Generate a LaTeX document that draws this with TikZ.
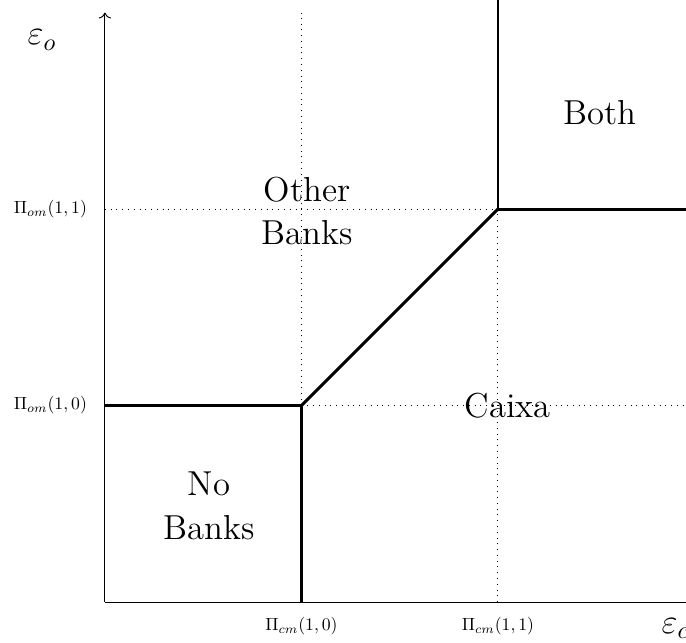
\documentclass[tikz,border=0pt]{standalone}
\usepackage{amsmath,amssymb}
\usepackage{tikz}
\usetikzlibrary{arrows.meta,positioning}

\begin{document}
\begin{tikzpicture}[x=2.87cm, y=2.87cm,
    axis/.style={->, thin},
    bound/.style={very thick},
    guide/.style={dotted, thin},
    region/.style={font=\Large, align=center},
    tick/.style={scale=0.735, transform shape}
]
    \useasboundingbox (-0.534,-0.204) rectangle (2.957,3.064);
    % corner points
    \coordinate (O) at (0,0);
    \coordinate (xend) at (3,0);
    \coordinate (yend) at (0,3);
    \coordinate (P10) at (1,1);
    \coordinate (P11) at (2,2);
    \coordinate (L1) at (0,1);
    \coordinate (L2) at (0,2);
    \coordinate (B1) at (1,0);
    \coordinate (B2) at (2,0);
    \coordinate (R1) at (3,1);
    \coordinate (T1) at (1,3);
    \coordinate (T2) at (2,3.2);
    \coordinate (R2e) at (3.2,2);
    % guides
    \draw[guide] (B1) -- (T1);
    \draw[guide] (B2) -- (P11);
    \draw[guide] (L2) -- (P11);
    \draw[guide] (P10) -- (R1);
    % axes
    \draw[axis] (O) -- (yend);
    \draw[axis] (O) -- (xend);
    \node[font=\Large] (eo) at (-0.32,2.86) {$\varepsilon_o$};
    \node[font=\Large, anchor=west] (ec) at (2.79,-0.135) {$\varepsilon_c$};
    % ticks
    \node[tick, left=0.06 of L2] (t11) {$\Pi_{om}(1,1)$};
    \node[tick, left=0.06 of L1] (t10) {$\Pi_{om}(1,0)$};
    \node[tick, below=0.045 of B1] (c10) {$\Pi_{cm}(1,0)$};
    \node[tick, below=0.045 of B2] (c11) {$\Pi_{cm}(1,1)$};
    % boundaries
    \draw[bound] (L1) -- (P10) -- (B1);
    \draw[bound] (P10) -- (P11);
    \draw[bound] (T2) -- (P11) -- (R2e);
    % regions
    \node[region] (both) at (2.52,2.49) {Both};
    \node[region] (other) at (1.03,1.99) {Other\\Banks};
    \node[region] (caixa) at (2.05,1.0) {Caixa};
    \node[region] (none) at (0.53,0.49) {No\\Banks};
\end{tikzpicture}
\end{document}
